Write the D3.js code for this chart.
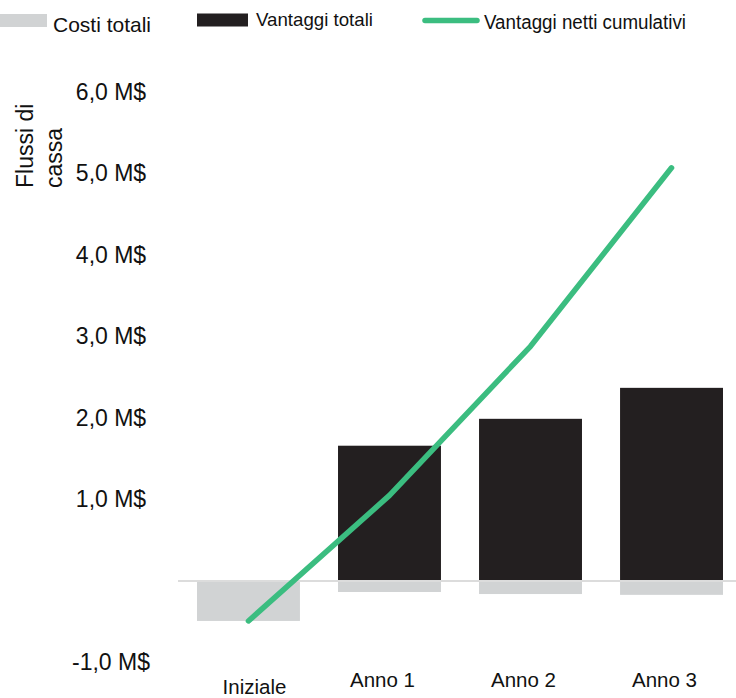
<!DOCTYPE html>
<html>
<head>
<meta charset="utf-8">
<script src="https://cdn.jsdelivr.net/npm/d3@7"></script>
<style>
  body { margin: 0; background: #fff; }
  text { font-family: "Liberation Sans", Arial, sans-serif; fill: #111; }
</style>
</head>
<body>
<div id="chart"></div>
<script>
// data (millions of $)
var categories = ["Iniziale", "Anno 1", "Anno 2", "Anno 3"];
var benefits   = [0, 1.66, 1.99, 2.37];          // Vantaggi totali
var costs      = [-0.49, -0.135, -0.16, -0.17];  // Costi totali
var cumulative = [-0.49, 1.05, 2.88, 5.07];      // Vantaggi netti cumulativi
var yTicks     = [-1, 1, 2, 3, 4, 5, 6];

var width = 736, height = 698;
var grey = "#d1d3d4", black = "#231f20", green = "#3bbd80";

var fmt = d3.formatLocale({ decimal: ",", thousands: ".", grouping: [3], currency: ["", ""], minus: "-" }).format(".1f");

var svg = d3.select("#chart").append("svg")
    .attr("width", width)
    .attr("height", height);

var x = d3.scaleBand()
    .domain(categories)
    .range([197, 723])
    .paddingInner(0.27)
    .paddingOuter(0);

var y = d3.scaleLinear()
    .domain([-1, 6])
    .range([662.5, 92]);

// y axis labels, no line
var yAxis = svg.append("g")
    .attr("transform", "translate(111,0)")
    .call(d3.axisLeft(y).tickValues(yTicks).tickSize(0).tickFormat(function(d) { return fmt(d) + " M$"; }));
yAxis.select(".domain").remove();
yAxis.selectAll("text")
    .attr("x", 0)
    .attr("text-anchor", "middle")
    .style("font-size", "23px")
    .style("font-family", "'Liberation Sans', Arial, sans-serif")
    .attr("fill", "#111");

// axis title, two rotated lines
svg.append("text")
    .attr("transform", "translate(33,188) rotate(-90)")
    .style("font-size", "23px")
    .text("Flussi di");
svg.append("text")
    .attr("transform", "translate(62,188) rotate(-90)")
    .style("font-size", "23px")
    .text("cassa");

// cost bars (below zero)
svg.append("g")
    .selectAll("rect")
    .data(costs)
    .enter()
    .append("rect")
    .attr("x", function(d, i) { return x(categories[i]); })
    .attr("y", y(0))
    .attr("width", x.bandwidth())
    .attr("height", function(d) { return y(d) - y(0); })
    .style("fill", grey);

// benefit bars (above zero)
svg.append("g")
    .selectAll("rect")
    .data(benefits)
    .enter()
    .append("rect")
    .attr("x", function(d, i) { return x(categories[i]); })
    .attr("y", function(d) { return y(d); })
    .attr("width", x.bandwidth())
    .attr("height", function(d) { return y(0) - y(d); })
    .style("fill", black);

// zero line
svg.append("line")
    .attr("x1", 178).attr("x2", width)
    .attr("y1", y(0)).attr("y2", y(0))
    .style("stroke", "#dcdcdc")
    .style("stroke-width", 2);

// cumulative net line
var line = d3.line()
    .x(function(d, i) { return x(categories[i]) + x.bandwidth() / 2; })
    .y(function(d) { return y(d); });

svg.append("path")
    .datum(cumulative)
    .attr("d", line)
    .style("fill", "none")
    .style("stroke", green)
    .style("stroke-width", 5.5)
    .style("stroke-linecap", "round")
    .style("stroke-linejoin", "round");

// category labels (sit a bit left of the bar centres in the original)
svg.append("g")
    .selectAll("text")
    .data(categories)
    .enter()
    .append("text")
    .attr("x", function(d, i) { return x(d) + x.bandwidth() / 2 + (i === 0 ? 6 : -7); })
    .attr("y", function(d, i) { return i === 0 ? 694 : 687; })
    .attr("text-anchor", "middle")
    .style("font-size", "20.5px")
    .text(function(d) { return d; });

// legend
var legend = svg.append("g");
legend.append("rect").attr("x", 0).attr("y", 14).attr("width", 47).attr("height", 13).style("fill", grey);
legend.append("text").attr("x", 53).attr("y", 31.5)
    .style("font-size", "21px").text("Costi totali");

legend.append("rect").attr("x", 197).attr("y", 13.5).attr("width", 51).attr("height", 13).style("fill", black);
legend.append("text").attr("x", 256).attr("y", 26)
    .style("font-size", "18.5px")
    .attr("textLength", 117).attr("lengthAdjust", "spacingAndGlyphs")
    .text("Vantaggi totali");

legend.append("line")
    .attr("x1", 425).attr("x2", 477).attr("y1", 20.5).attr("y2", 20.5)
    .style("stroke", green).style("stroke-width", 5.5).style("stroke-linecap", "round");
legend.append("text").attr("x", 484).attr("y", 29)
    .style("font-size", "20px")
    .attr("textLength", 202).attr("lengthAdjust", "spacingAndGlyphs")
    .text("Vantaggi netti cumulativi");
</script>
</body>
</html>
